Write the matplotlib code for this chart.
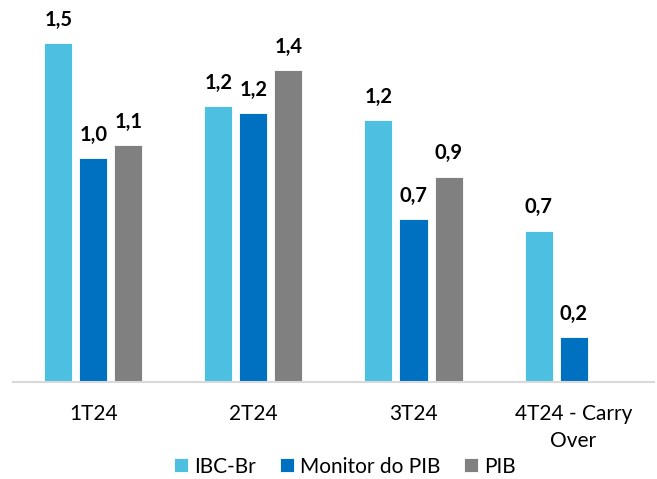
import numpy as np
import matplotlib.pyplot as plt

categories = ["1T24", "2T24", "3T24", "4T24 - Carry\nOver"]
series_names = ["IBC-Br", "Monitor do PIB", "PIB"]
ibc_br = [1.50, 1.22, 1.16, 0.67]
monitor_pib = [0.99, 1.19, 0.72, 0.20]
pib = [1.05, 1.38, 0.91, np.nan]
colors = ["#4dbfe0", "#0070c0", "#808080"]

plt.rcParams['font.family'] = ['Lato', 'DejaVu Sans']

fig = plt.figure(figsize=(6.57, 4.79), dpi=100, facecolor='white')
ax = fig.add_axes([0.0205, 0.2025, 0.9742, 0.7779])

x = np.arange(len(categories))
width = 0.175
offsets = [-0.21875, 0, 0.21875]

for vals, off, col, name in zip([ibc_br, monitor_pib, pib], offsets, colors, series_names):
    bars = ax.bar(x + off, vals, width, color=col, label=name,
                  edgecolor='white', linewidth=0.6)
    for xi, v in zip(x + off, vals):
        if np.isnan(v):
            continue
        ax.annotate(f"{v:.1f}".replace(".", ","), (xi, v), xytext=(0, 12.5),
                    textcoords='offset points', ha='center', va='baseline',
                    fontsize=14.5, fontweight='bold', color='black')

ax.set_xlim(-0.5, 3.5)
ax.set_ylim(0, 1.65)
ax.set_yticks([])
ax.set_xticks(x)
ax.set_xticklabels(categories, fontsize=15, linespacing=1.45)
ax.tick_params(axis='x', length=0, pad=16)
for s in ['top', 'right', 'left']:
    ax.spines[s].set_visible(False)
ax.spines['bottom'].set_color('#d9d9d9')
ax.spines['bottom'].set_linewidth(1.5)

fig.legend(loc='center', bbox_to_anchor=(0.525, 0.026), ncol=3, frameon=False,
           fontsize=15, handlelength=0.67, handleheight=0.67,
           handletextpad=0.3, columnspacing=1.15, borderpad=0.2)

plt.savefig("out.png", dpi=100)
